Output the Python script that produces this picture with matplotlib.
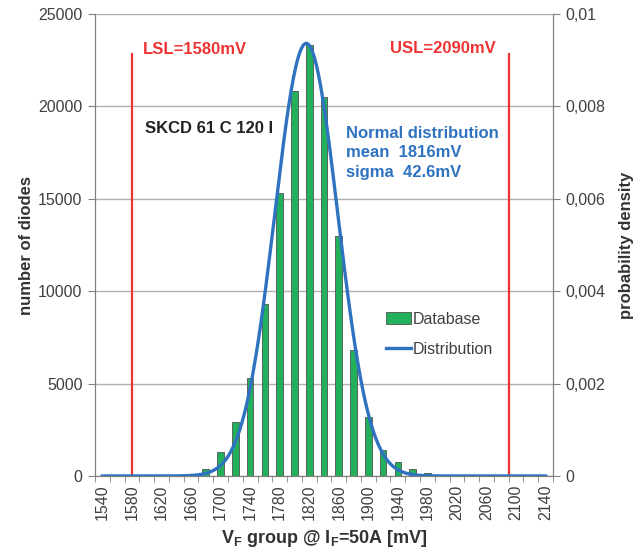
import numpy as np
import matplotlib
matplotlib.use("Agg")
import matplotlib.pyplot as plt
from matplotlib.ticker import FixedLocator, FuncFormatter

plt.rcParams['font.family'] = ['Liberation Sans', 'DejaVu Sans']
plt.rcParams['mathtext.fontset'] = 'custom'
plt.rcParams['mathtext.rm'] = 'Liberation Sans'
plt.rcParams['mathtext.bf'] = 'Liberation Sans:bold'

# VF groups (mV) and diode counts
groups = np.arange(1540, 2141, 20)
counts = [0, 0, 0, 0, 0, 0, 80, 360, 1280, 2900, 5320, 9320, 15300, 20850,
          23320, 20530, 13000, 6820, 3180, 1400, 740, 400, 150, 0, 0, 0,
          0, 0, 0, 0, 0]
tick_labels = [str(g) for g in groups[::2]]

mean = 1816.0
sigma = 42.6
lsl = 1580
usl = 2090
limit_top = 22900

green = '#22b15a'
blue = '#2f73c0'
red = '#ee3333'
txt = '#404040'

fig = plt.figure(figsize=(6.36, 5.56), dpi=100)
ax = fig.add_axes([0.1494, 0.1439, 0.7201, 0.8309])

ax.bar(groups, counts, width=9, color=green, edgecolor='#505050',
       linewidth=0.6, zorder=3, label='Database')
ax.vlines([lsl, usl], 0, limit_top, color=red, lw=1.6, zorder=4)

ax.set_xlim(1530, 2150)
ax.set_ylim(0, 25000)
ax.set_yticks(range(0, 25001, 5000))
ax.yaxis.grid(True, color='#b0b0b0', lw=1)
ax.set_axisbelow(True)

ax.xaxis.set_major_locator(FixedLocator(groups[::2]))
ax.set_xticklabels(tick_labels, rotation=90)
ax.xaxis.set_minor_locator(FixedLocator(np.arange(1530, 2151, 20)))
ax.tick_params(axis='x', which='major', length=0, pad=6, labelsize=11.5, labelcolor=txt)
ax.tick_params(axis='x', which='minor', length=4, color='#808080')
ax.tick_params(axis='y', length=5, color='#808080', labelsize=11.5, labelcolor=txt, pad=4)

for s in ['left', 'bottom', 'right']:
    ax.spines[s].set_color('#808080')
ax.spines['top'].set_visible(False)

ax.set_ylabel('number of diodes', fontsize=12, fontweight='bold', color='#333333', labelpad=3)
ax.set_xlabel(r'V$_\mathbf{F}$ group @ I$_\mathbf{F}$=50A [mV]', fontsize=13,
              fontweight='bold', color='#333333', labelpad=6)

ax2 = ax.twinx()
xs = np.linspace(groups[0], groups[-1], 600)
pdf = np.exp(-0.5 * ((xs - mean) / sigma) ** 2) / (sigma * np.sqrt(2 * np.pi))
ax2.plot(xs, pdf, color=blue, lw=2.4, label='Distribution', zorder=5)
ax2.set_ylim(0, 0.01)
ax2.set_yticks([0, 0.002, 0.004, 0.006, 0.008, 0.01])
ax2.yaxis.set_major_formatter(FuncFormatter(lambda v, p: f"{v:g}".replace('.', ',')))
ax2.tick_params(axis='y', length=5, color='#808080', labelsize=11.5, labelcolor=txt, pad=4)
for s in ['left', 'bottom', 'right']:
    ax2.spines[s].set_color('#808080')
ax2.spines['top'].set_visible(False)
ax2.set_ylabel('probability density', fontsize=12, fontweight='bold', color='#333333', labelpad=10)

ax.text(1595, 23100, 'LSL=1580mV', color=red, fontsize=12, fontweight='bold', va='center')
ax.text(2073, 23150, 'USL=2090mV', color=red, fontsize=12, fontweight='bold', va='center', ha='right')
ax.text(1597, 18830, 'SKCD 61 C 120 I', color='#222222', fontsize=12, fontweight='bold', va='center')
ax.text(1870, 18950, 'Normal distribution\nmean  1816mV\nsigma  42.6mV', color=blue,
        fontsize=12, fontweight='bold', va='top', linespacing=1.38)

h1, l1 = ax.get_legend_handles_labels()
h2, l2 = ax2.get_legend_handles_labels()
ax2.legend(h1 + h2, l1 + l2, loc='upper left', bbox_to_anchor=(0.617, 0.373),
           frameon=False, fontsize=11.5, handlelength=1.6, handletextpad=0.1,
           labelspacing=0.95, borderpad=0, labelcolor=txt)

fig.savefig('out.png', dpi=100)
